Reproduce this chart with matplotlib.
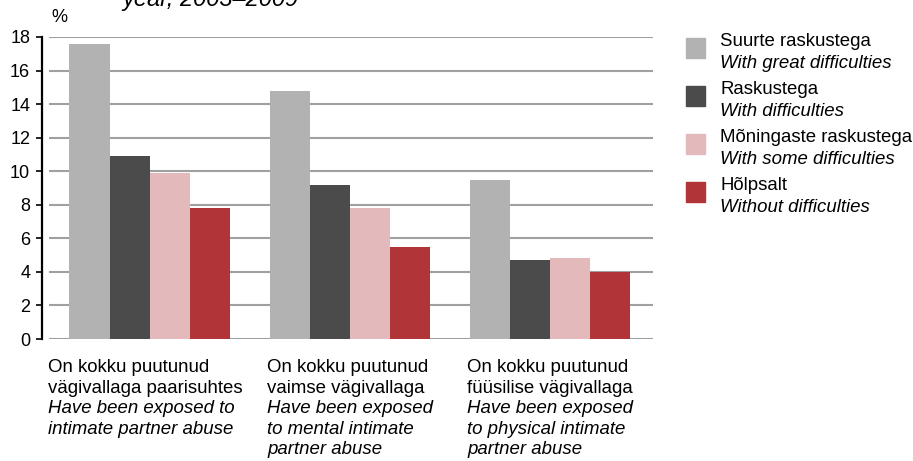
import matplotlib
matplotlib.use("Agg")
import matplotlib.pyplot as plt
from matplotlib.patches import Rectangle

plt.rcParams["font.family"] = ["Liberation Sans", "DejaVu Sans"]

# data
categories_et = [
    ["On kokku puutunud", "vägivallaga paarisuhtes"],
    ["On kokku puutunud", "vaimse vägivallaga"],
    ["On kokku puutunud", "füüsilise vägivallaga"],
]
categories_en = [
    ["Have been exposed to", "intimate partner abuse"],
    ["Have been exposed", "to mental intimate", "partner abuse"],
    ["Have been exposed", "to physical intimate", "partner abuse"],
]
series_et = ["Suurte raskustega", "Raskustega", "Mõningaste raskustega", "Hõlpsalt"]
series_en = ["With great difficulties", "With difficulties",
             "With some difficulties", "Without difficulties"]
great = [17.6, 14.8, 9.5]
some_diff = [10.9, 9.2, 4.7]
moderate = [9.9, 7.8, 4.8]
easy = [7.8, 5.5, 4.0]
yticks = [0, 2, 4, 6, 8, 10, 12, 14, 16, 18]

colors = ["#b2b2b2", "#4b4b4b", "#e3b9bb", "#b03438"]

W, H = 913, 461


def px(x, y):
    """pixel coords (from top left) to figure fraction"""
    return x / W, 1 - y / H


fig = plt.figure(figsize=(W / 100, H / 100), dpi=100)
ax = fig.add_axes((42 / W, (H - 339) / H, 611 / W, 302 / H))

values = [great, some_diff, moderate, easy]
bw = 0.2
for i, vals in enumerate(values):
    xs = [g - 0.3 + i * bw for g in range(len(vals))]
    ax.bar(xs, vals, width=bw, color=colors[i], zorder=3, linewidth=0)

ax.set_xlim(-0.5375, 2.5175)
ax.set_ylim(0, 18)
ax.hlines(yticks, -0.5025, 2.5175, colors="#a0a0a0", lw=1.5, zorder=2)

ax.set_yticks(yticks)
ax.set_xticks([])
for s in ["top", "right", "bottom"]:
    ax.spines[s].set_visible(False)
ax.spines["left"].set_linewidth(1.6)
ax.tick_params(axis="y", length=4.5, width=1.2, pad=4, labelsize=13)

fig.text(*px(59, 17), "%", ha="center", va="center", fontsize=13)
fig.text(*px(122, 6), "year, 2003–2009", ha="left", va="baseline",
         fontsize=17, style="italic")

# category labels under groups
label_x = [48, 267, 467]
for k in range(3):
    lines = [(t, "normal") for t in categories_et[k]] + \
            [(t, "italic") for t in categories_en[k]]
    for j, (t, st) in enumerate(lines):
        fig.text(*px(label_x[k], 372 + j * 20.6), t, ha="left", va="baseline",
                 fontsize=13.4, style=st)

# legend
for i in range(4):
    yc = 48 + i * 48
    fig.patches.append(Rectangle(px(686, yc + 10), 19 / W, 20 / H,
                                 transform=fig.transFigure, color=colors[i]))
    fig.text(*px(720, yc - 7), series_et[i], ha="left", va="center", fontsize=13.4)
    fig.text(*px(720, yc + 15), series_en[i], ha="left", va="center",
             fontsize=13.4, style="italic")

fig.savefig("out.png", dpi=100)
